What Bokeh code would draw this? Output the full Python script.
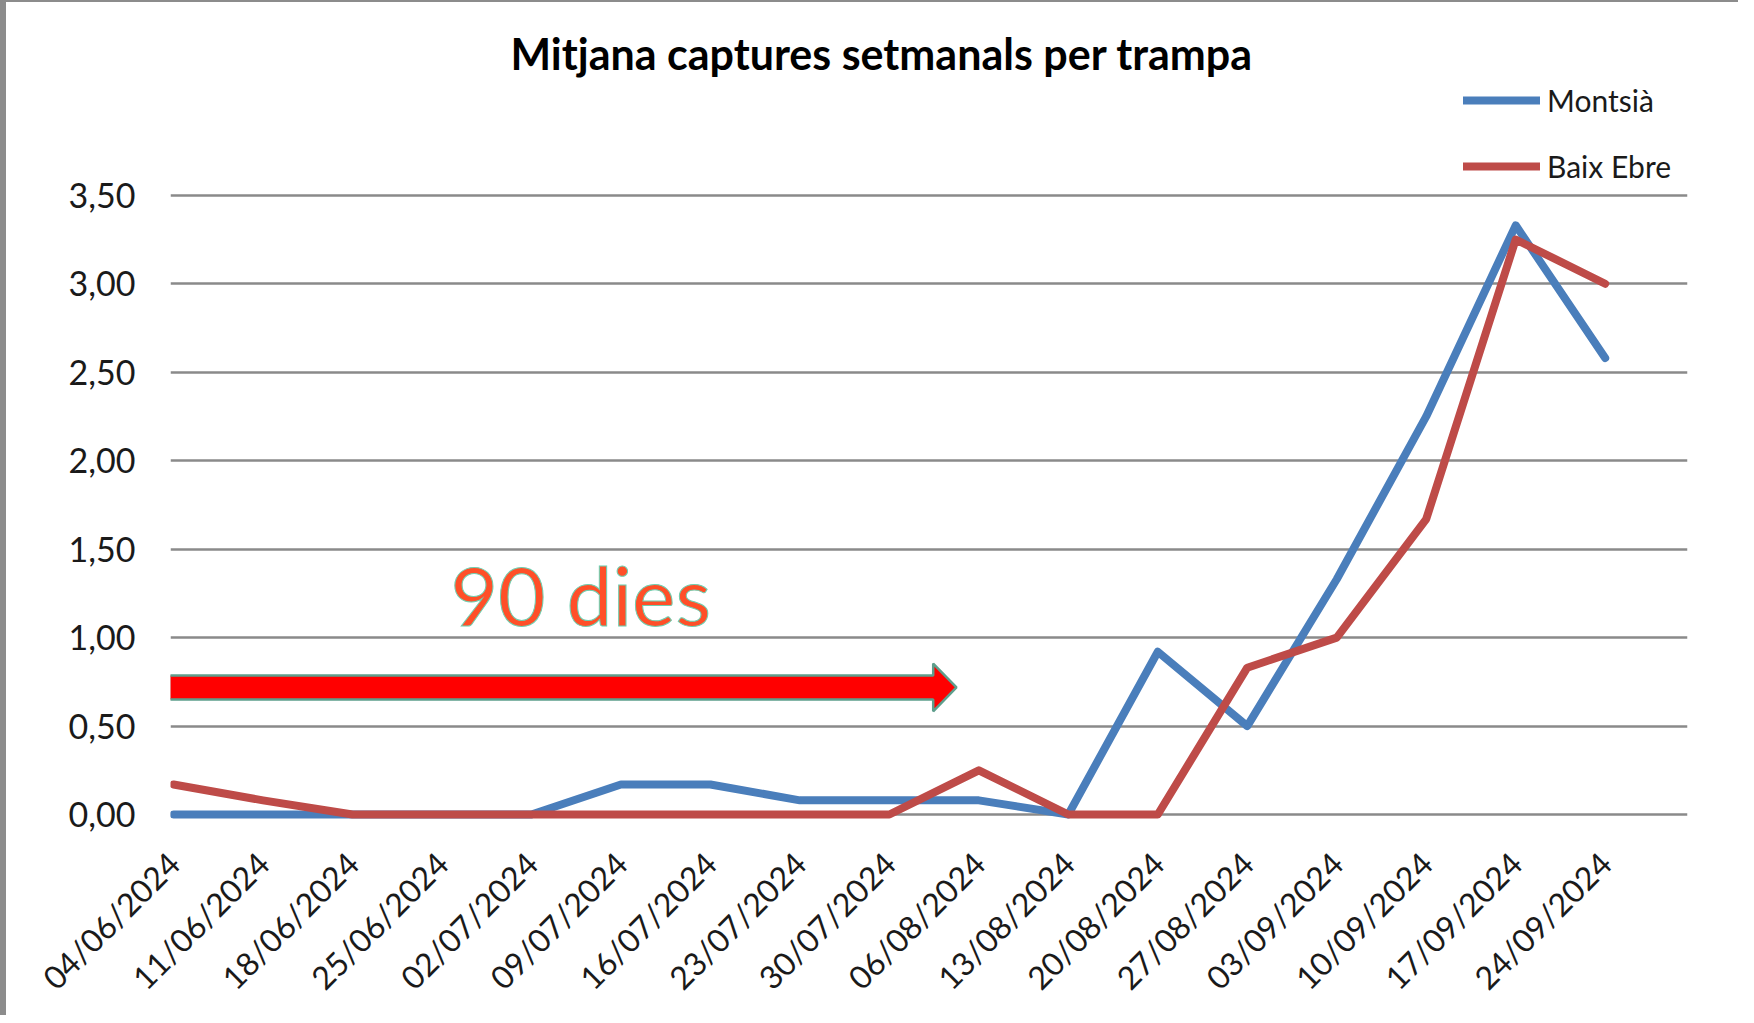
import math
from bokeh.plotting import figure
from bokeh.models import FixedTicker, Range1d, Legend, LegendItem
from bokeh.core.properties import value
from bokeh.embed import file_html
from bokeh.resources import INLINE

# ---- data ----
dates = ["04/06/2024", "11/06/2024", "18/06/2024", "25/06/2024", "02/07/2024",
         "09/07/2024", "16/07/2024", "23/07/2024", "30/07/2024", "06/08/2024",
         "13/08/2024", "20/08/2024", "27/08/2024", "03/09/2024", "10/09/2024",
         "17/09/2024", "24/09/2024"]
montsia = [0.00, 0.00, 0.00, 0.00, 0.00, 0.17, 0.17, 0.08, 0.08, 0.08,
           0.00, 0.92, 0.50, 1.33, 2.25, 3.33, 2.58]
baix_ebre = [0.17, 0.08, 0.00, 0.00, 0.00, 0.00, 0.00, 0.00, 0.00, 0.25,
             0.00, 0.00, 0.83, 1.00, 1.67, 3.25, 3.00]
y_ticks = [0.0, 0.5, 1.0, 1.5, 2.0, 2.5, 3.0, 3.5]
series_names = ["Montsià", "Baix Ebre"]
title_text = "Mitjana captures setmanals per trampa"
note_text = "90 dies"

# annotation (arrow + note) placement, in data units
arrow_x_start, arrow_x_head, arrow_x_tip = -0.05, 8.49, 8.75
arrow_y, arrow_shaft_half, arrow_head_half = 0.718, 0.068, 0.135
note_x, note_y = 4.55, 1.247

x = list(range(len(dates)))

p = figure(width=1738, height=1015, output_backend="svg", toolbar_location=None,
           x_range=Range1d(-0.034, 16.92), y_range=Range1d(-0.079, 4.16),
           min_border_left=170, min_border_right=51, min_border_top=78,
           min_border_bottom=187)

p.title.text = title_text
p.title.align = "left"
p.title.offset = 340
p.title.text_font = "Lato"
p.title.text_font_style = "bold"
p.title.text_font_size = "43px"
p.title.text_color = "#000000"
p.title.standoff = 0

p.outline_line_color = None
p.background_fill_color = "white"
p.border_fill_color = None
p.styles = {"box-shadow": "inset 6px 2px 0 0 #8c8c8c", "background-color": "white"}

# x axis
p.xaxis.ticker = FixedTicker(ticks=x)
p.xaxis.major_label_overrides = {i: d for i, d in zip(x, dates)}
p.xaxis.major_label_orientation = math.pi / 4
p.xaxis.axis_line_color = None
p.xaxis.major_tick_line_color = None
p.xaxis.minor_tick_line_color = None
p.xaxis.major_label_text_font = "Lato"
p.xaxis.major_label_text_font_size = "32px"
p.xaxis.major_label_text_color = "#1a1a1a"
p.xaxis.major_label_standoff = 23
p.xgrid.visible = False

# y axis
p.yaxis.ticker = FixedTicker(ticks=y_ticks)
p.yaxis.major_label_overrides = {t: f"{t:.2f}".replace(".", ",") for t in y_ticks}
p.yaxis.axis_line_color = None
p.yaxis.major_tick_line_color = None
p.yaxis.minor_tick_line_color = None
p.yaxis.major_label_text_font = "Lato"
p.yaxis.major_label_text_font_size = "34px"
p.yaxis.major_label_text_color = "#1a1a1a"
p.yaxis.major_label_standoff = 29
p.ygrid.grid_line_color = "#8a8a8a"
p.ygrid.grid_line_width = 2.5

# series
r1 = p.line(x, montsia, line_color="#4A7EBB", line_width=8,
            line_cap="round", line_join="round")
r2 = p.line(x, baix_ebre, line_color="#BE4B48", line_width=8,
            line_cap="round", line_join="round")

# arrow annotation
ax = [arrow_x_start, arrow_x_head, arrow_x_head, arrow_x_tip, arrow_x_head, arrow_x_head, arrow_x_start]
ay = [arrow_y + arrow_shaft_half, arrow_y + arrow_shaft_half, arrow_y + arrow_head_half, arrow_y,
      arrow_y - arrow_head_half, arrow_y - arrow_shaft_half, arrow_y - arrow_shaft_half]
p.patch(ax, ay, fill_color="#FF0000", line_color="#5E9E8C", line_width=2.5)

p.text(x=[note_x], y=[note_y], text=[note_text], text_font=value("Lato"),
       text_font_size="82px", text_color="#FF4F28", text_outline_color="#6FCFB0",
       text_align="center", text_baseline="alphabetic")

legend = Legend(items=[LegendItem(label=series_names[0], renderers=[r1]),
                       LegendItem(label=series_names[1], renderers=[r2])],
                location=(1293, 644), orientation="vertical",
                glyph_width=77, glyph_height=36, label_height=36,
                label_standoff=7, spacing=30, padding=0, margin=0,
                border_line_color=None, background_fill_alpha=0,
                label_text_font="Lato", label_text_font_size="30px",
                label_text_color="#1a1a1a")
p.add_layout(legend)

open("out.html", "w").write(file_html(p, INLINE))
